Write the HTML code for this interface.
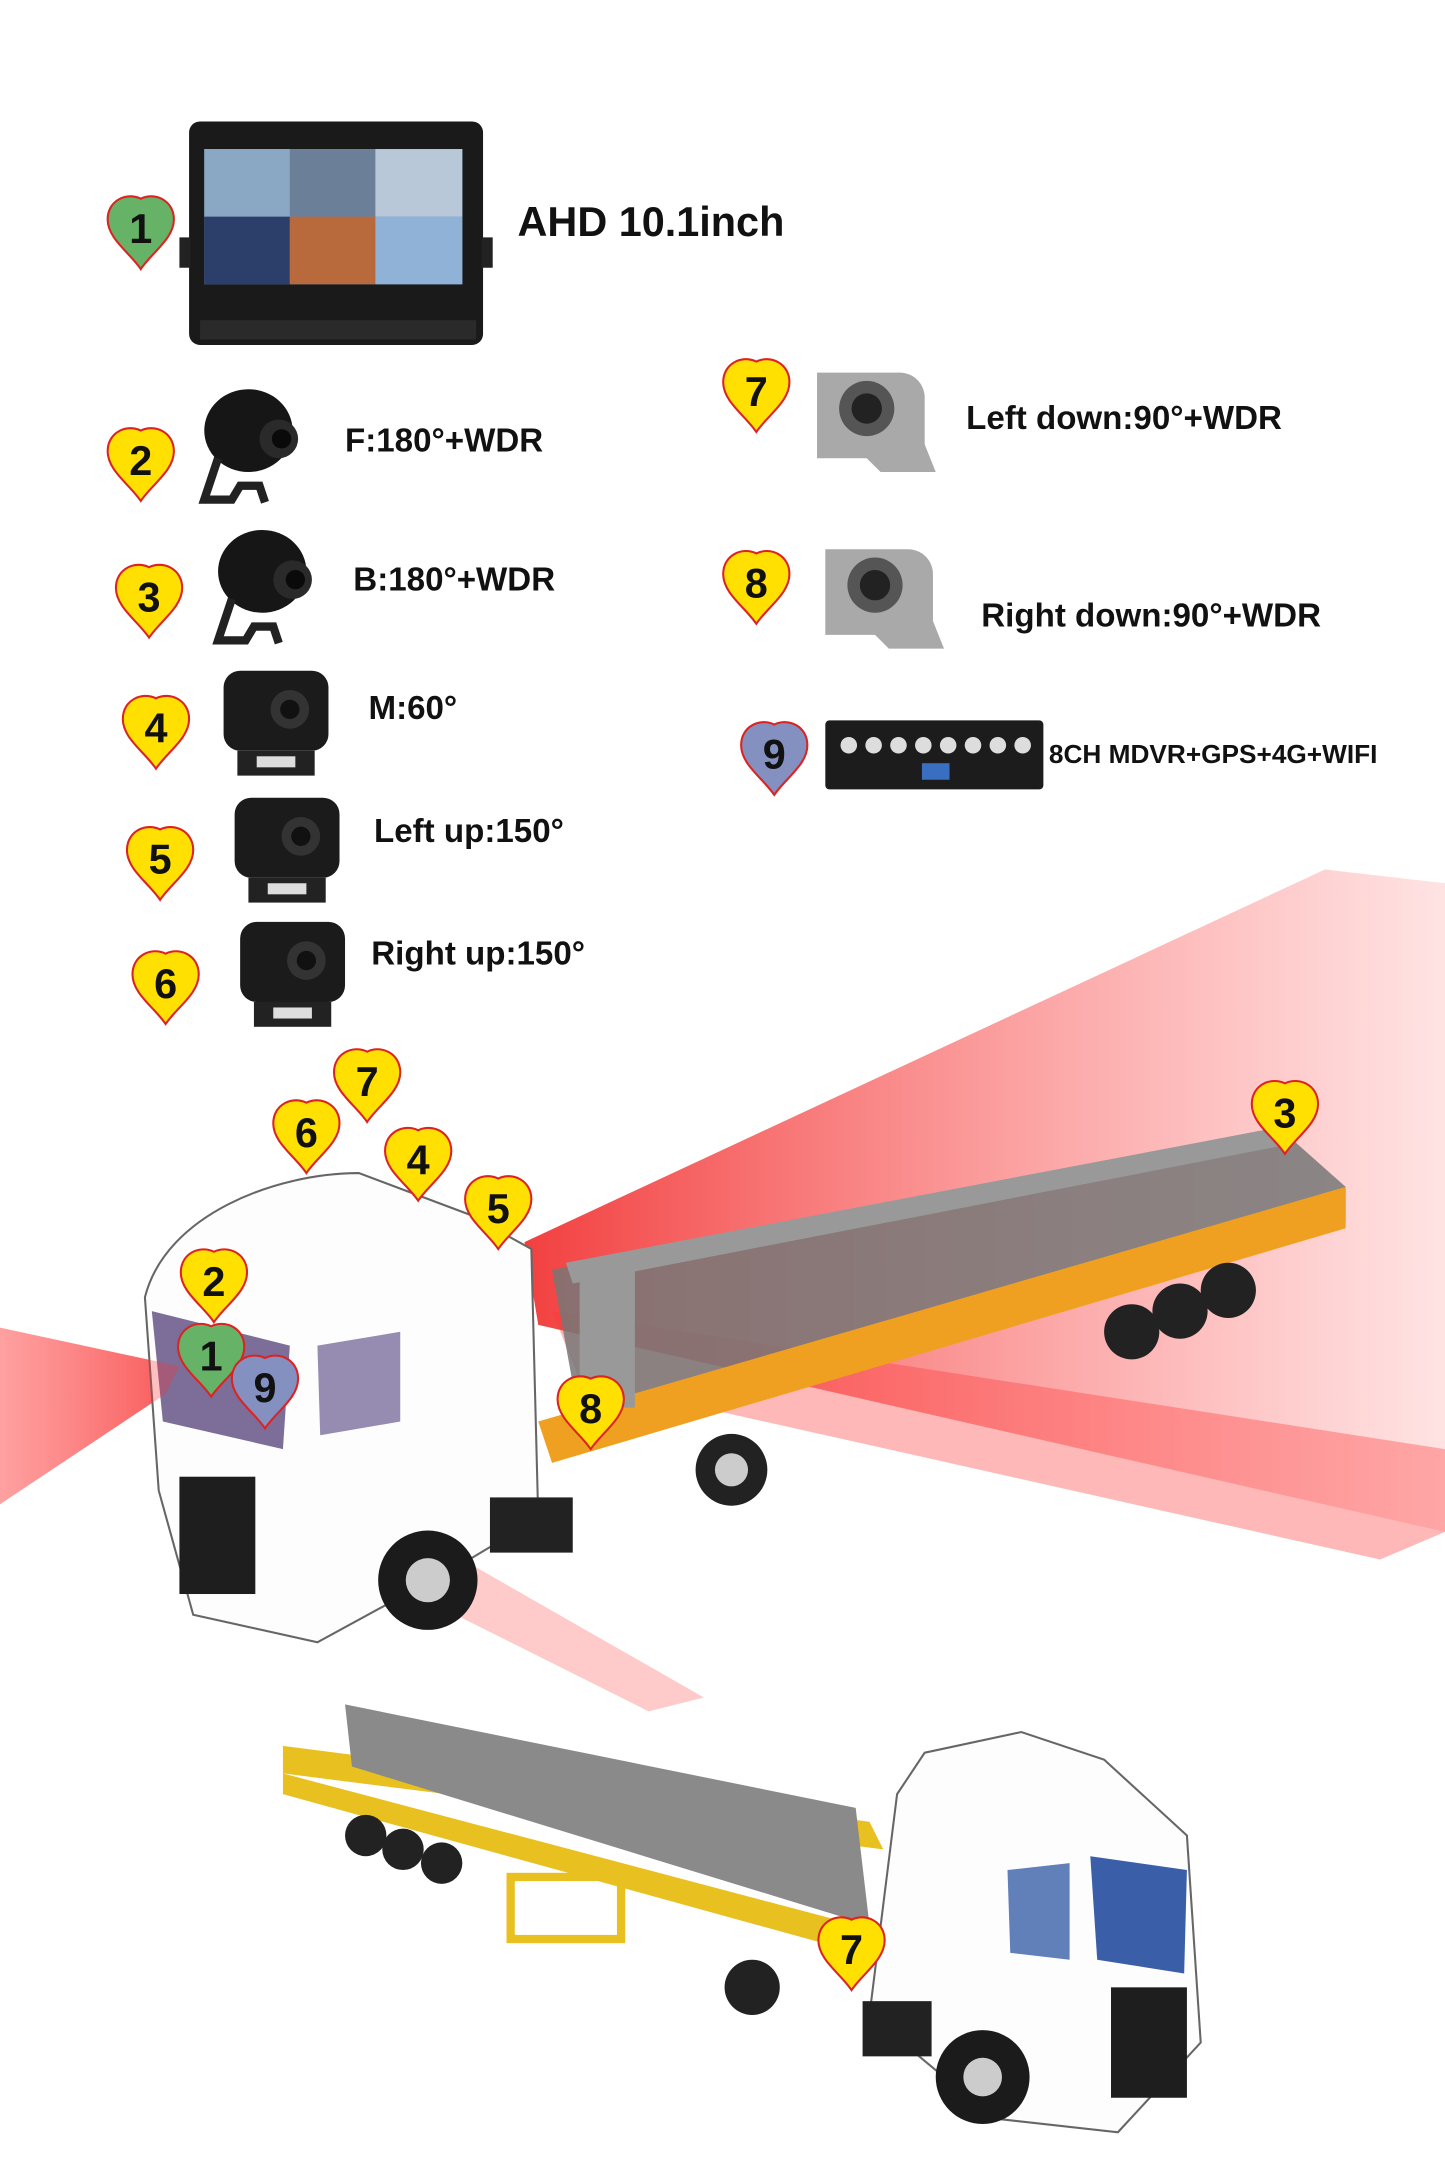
<!DOCTYPE html>
<html><head><meta charset="utf-8"><style>
html,body{margin:0;padding:0;background:#fff;width:1445px;height:2164px;overflow:hidden}
svg{display:block}
text{font-family:"Liberation Sans",sans-serif;font-weight:bold}
</style></head><body>
<svg width="1445" height="2164" viewBox="0 0 1047 1568" preserveAspectRatio="none" xmlns="http://www.w3.org/2000/svg">
<defs>
<path id="pin" d="M-24,-6 C-24,-20 -10,-26 0,-21 C10,-26 24,-20 24,-6 C24,8 8,18 0,30 C-8,18 -24,8 -24,-6Z"/>
<linearGradient id="beam" x1="0" y1="0" x2="1" y2="0"><stop offset="0" stop-color="#e00" stop-opacity=".75"/><stop offset="1" stop-color="#f44" stop-opacity=".15"/></linearGradient>
<linearGradient id="beamL" x1="1" y1="0" x2="0" y2="0"><stop offset="0" stop-color="#e00" stop-opacity=".6"/><stop offset="1" stop-color="#f44" stop-opacity=".25"/></linearGradient>
<g id="camB"><rect x="-38" y="-32" width="76" height="58" rx="12" fill="#1b1b1b"/><circle cx="10" cy="-4" r="14" fill="#333"/><circle cx="10" cy="-4" r="7" fill="#111"/><rect x="-28" y="26" width="56" height="18" fill="#222"/><rect x="-14" y="30" width="28" height="8" fill="#ddd"/></g>
<g id="camG"><path d="M-40,-30 h60 a18,18 0 0 1 18,18 v34 l8,20 h-40 l-10,-10 h-36 z" fill="#a9a9a9"/><circle cx="-4" cy="-4" r="20" fill="#555"/><circle cx="-4" cy="-4" r="11" fill="#222"/></g>
<g id="camF"><ellipse cx="0" cy="0" rx="32" ry="30" fill="#161616"/><circle cx="22" cy="6" r="14" fill="#2a2a2a"/><circle cx="24" cy="6" r="7" fill="#0a0a0a"/><path d="M-22,20 l-10,30 h20 l6,-10 h14 l4,12" stroke="#222" stroke-width="6" fill="none"/></g>
</defs>

<!-- beams -->
<polygon points="380,900 960,630 1047,640 1047,1110 390,960" fill="url(#beam)"/>
<polygon points="400,950 1047,1050 1047,1110 1000,1130 420,1000" fill="#f33" opacity=".35"/>
<polygon points="0,962 130,990 120,1010 0,1090" fill="url(#beamL)"/>
<polygon points="300,1110 510,1230 470,1240 330,1170" fill="#f66" opacity=".35"/>

<!-- monitor -->
<rect x="137" y="88" width="213" height="162" rx="8" fill="#1a1a1a"/>
<rect x="148" y="108" width="187" height="98" fill="#6b8fb5"/>
<rect x="148" y="108" width="62" height="49" fill="#8aa7c4"/><rect x="210" y="108" width="62" height="49" fill="#6c7f98"/><rect x="272" y="108" width="63" height="49" fill="#b8c8d8"/>
<rect x="148" y="157" width="62" height="49" fill="#2b3f6a"/><rect x="210" y="157" width="62" height="49" fill="#b86a3c"/><rect x="272" y="157" width="63" height="49" fill="#8fb2d6"/>
<rect x="130" y="172" width="8" height="22" fill="#222"/><rect x="349" y="172" width="8" height="22" fill="#222"/>
<rect x="145" y="232" width="200" height="14" fill="#2a2a2a"/>
<text x="375" y="171" font-size="30" fill="#111">AHD 10.1inch</text>

<!-- cameras left -->
<use href="#camF" x="180" y="312"/>
<use href="#camF" x="190" y="414"/>
<use href="#camB" x="200" y="518"/>
<use href="#camB" x="208" y="610"/>
<use href="#camB" x="212" y="700"/>
<g font-size="24" fill="#111">
<text x="250" y="327">F:180°+WDR</text>
<text x="256" y="428">B:180°+WDR</text>
<text x="267" y="521">M:60°</text>
<text x="271" y="610">Left up:150°</text>
<text x="269" y="699">Right up:150°</text>
<text x="700" y="311">Left down:90°+WDR</text>
<text x="711" y="454">Right down:90°+WDR</text>
<text x="760" y="553" font-size="19">8CH MDVR+GPS+4G+WIFI</text>
</g>
<use href="#camG" x="632" y="300"/>
<use href="#camG" x="638" y="428"/>
<!-- mdvr -->
<rect x="598" y="522" width="158" height="50" rx="3" fill="#1c1c1c"/>
<g fill="#ddd"><circle cx="615" cy="540" r="6"/><circle cx="633" cy="540" r="6"/><circle cx="651" cy="540" r="6"/><circle cx="669" cy="540" r="6"/><circle cx="687" cy="540" r="6"/><circle cx="705" cy="540" r="6"/><circle cx="723" cy="540" r="6"/><circle cx="741" cy="540" r="6"/></g>
<rect x="668" y="553" width="20" height="12" fill="#3a6ec0"/>

<!-- truck 1 -->
<polygon points="400,920 930,820 975,860 975,885 420,1030" fill="#777" opacity=".85"/>
<polygon points="410,915 920,818 930,830 415,930" fill="#999"/>
<polygon points="390,1030 975,860 975,890 400,1060" fill="#f0a020"/>
<rect x="420" y="920" width="40" height="100" fill="#999"/>
<circle cx="530" cy="1065" r="26" fill="#222"/><circle cx="530" cy="1065" r="12" fill="#ccc"/>
<circle cx="820" cy="965" r="20" fill="#222"/><circle cx="855" cy="950" r="20" fill="#222"/><circle cx="890" cy="935" r="20" fill="#222"/>
<path d="M105,940 C120,880 200,850 260,850 L340,880 385,905 390,1100 340,1130 230,1190 140,1170 115,1080 Z" fill="#fdfdfd" stroke="#666" stroke-width="1.5"/>
<polygon points="110,950 210,975 205,1050 118,1030" fill="#5b4a7e" opacity=".8"/>
<polygon points="230,975 290,965 290,1030 232,1040" fill="#6a5a90" opacity=".7"/>
<rect x="130" y="1070" width="55" height="85" fill="#1e1e1e"/>
<circle cx="310" cy="1145" r="36" fill="#1b1b1b"/><circle cx="310" cy="1145" r="16" fill="#ccc"/>
<rect x="355" y="1085" width="60" height="40" fill="#222"/>
<polygon points="0,962 130,990 120,1010 0,1090" fill="#f33" opacity=".3"/>

<!-- truck 2 -->
<polygon points="205,1265 630,1320 640,1340 205,1285" fill="#e8c020"/>
<polygon points="250,1235 620,1310 630,1395 255,1280" fill="#8a8a8a"/>
<polygon points="205,1285 640,1400 640,1420 205,1300" fill="#e8c020"/>
<rect x="370" y="1360" width="80" height="45" fill="none" stroke="#e8c020" stroke-width="6"/>
<circle cx="265" cy="1330" r="15" fill="#222"/><circle cx="292" cy="1340" r="15" fill="#222"/><circle cx="320" cy="1350" r="15" fill="#222"/>
<circle cx="545" cy="1440" r="20" fill="#222"/>
<path d="M650,1300 L670,1270 740,1255 800,1275 860,1330 870,1480 810,1545 720,1535 630,1460 Z" fill="#fdfdfd" stroke="#666" stroke-width="1.5"/>
<polygon points="790,1345 860,1355 858,1430 795,1420" fill="#3a5fa8"/>
<polygon points="730,1355 775,1350 775,1420 732,1415" fill="#3a5fa8" opacity=".8"/>
<rect x="805" y="1440" width="55" height="80" fill="#1e1e1e"/>
<circle cx="712" cy="1505" r="34" fill="#1b1b1b"/><circle cx="712" cy="1505" r="14" fill="#ccc"/>
<rect x="625" y="1450" width="50" height="40" fill="#222"/>

<!-- badges -->
<g stroke="#d22" stroke-width="1.5" font-size="30" text-anchor="middle">
<g transform="translate(102,165)"><use href="#pin" fill="#66b266"/><text y="11" fill="#111" stroke="none">1</text></g>
<g transform="translate(102,333)"><use href="#pin" fill="#ffe000"/><text y="11" fill="#111" stroke="none">2</text></g>
<g transform="translate(108,432)"><use href="#pin" fill="#ffe000"/><text y="11" fill="#111" stroke="none">3</text></g>
<g transform="translate(113,527)"><use href="#pin" fill="#ffe000"/><text y="11" fill="#111" stroke="none">4</text></g>
<g transform="translate(116,622)"><use href="#pin" fill="#ffe000"/><text y="11" fill="#111" stroke="none">5</text></g>
<g transform="translate(120,712)"><use href="#pin" fill="#ffe000"/><text y="11" fill="#111" stroke="none">6</text></g>
<g transform="translate(548,283)"><use href="#pin" fill="#ffe000"/><text y="11" fill="#111" stroke="none">7</text></g>
<g transform="translate(548,422)"><use href="#pin" fill="#ffe000"/><text y="11" fill="#111" stroke="none">8</text></g>
<g transform="translate(561,546)"><use href="#pin" fill="#8390c0"/><text y="11" fill="#111" stroke="none">9</text></g>
<g transform="translate(266,783)"><use href="#pin" fill="#ffe000"/><text y="11" fill="#111" stroke="none">7</text></g>
<g transform="translate(222,820)"><use href="#pin" fill="#ffe000"/><text y="11" fill="#111" stroke="none">6</text></g>
<g transform="translate(303,840)"><use href="#pin" fill="#ffe000"/><text y="11" fill="#111" stroke="none">4</text></g>
<g transform="translate(361,875)"><use href="#pin" fill="#ffe000"/><text y="11" fill="#111" stroke="none">5</text></g>
<g transform="translate(931,806)"><use href="#pin" fill="#ffe000"/><text y="11" fill="#111" stroke="none">3</text></g>
<g transform="translate(155,928)"><use href="#pin" fill="#ffe000"/><text y="11" fill="#111" stroke="none">2</text></g>
<g transform="translate(153,982)"><use href="#pin" fill="#66b266"/><text y="11" fill="#111" stroke="none">1</text></g>
<g transform="translate(192,1005)"><use href="#pin" fill="#8390c0"/><text y="11" fill="#111" stroke="none">9</text></g>
<g transform="translate(428,1020)"><use href="#pin" fill="#ffe000"/><text y="11" fill="#111" stroke="none">8</text></g>
<g transform="translate(617,1412)"><use href="#pin" fill="#ffe000"/><text y="11" fill="#111" stroke="none">7</text></g>
</g>
</svg>
</body></html>
